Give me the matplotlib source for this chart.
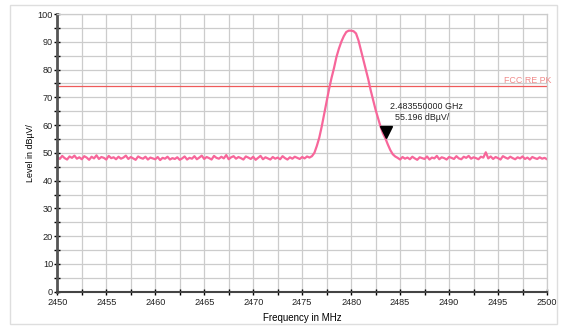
import numpy as np
import matplotlib
matplotlib.use("Agg")
import matplotlib.pyplot as plt
from matplotlib.patches import Rectangle
from matplotlib.ticker import MultipleLocator

plt.rcParams['font.family'] = ['Liberation Sans', 'DejaVu Sans']

# sweep: 2450 .. 2500 MHz, 0.25 MHz step
f_start = 2450.0
f_step = 0.25

# level readings (dBuV/)
level_left = [
    48.5, 47.8, 48.9, 48.1, 47.6, 48.7, 48.2, 49.0, 47.9, 48.4,
    47.7, 48.8, 48.3, 47.5, 48.6, 48.0, 49.1, 47.8, 48.5, 48.2,
    47.6, 48.9, 48.1, 48.4, 47.7, 48.6, 47.9, 48.3, 49.0, 47.8,
    48.5, 48.0, 47.5, 48.7, 48.2, 47.9, 48.6, 47.6, 48.3, 48.0,
    47.7, 48.5, 47.4, 48.2, 47.9, 48.6, 47.6, 48.1, 47.8, 48.4,
    47.5, 48.0, 48.7, 47.6, 48.2, 47.9, 48.8, 47.7, 48.3, 49.0,
    47.8, 48.5, 48.1, 47.6, 48.9, 48.2, 47.9, 48.6, 48.0, 49.2,
    47.7, 48.4, 48.8, 47.9, 48.5, 48.1, 47.6, 48.7, 48.3, 47.8,
    48.6, 47.5, 48.2, 48.9, 47.7, 48.4, 48.0, 47.6, 48.5, 47.9,
    48.3, 47.7, 48.8, 48.1, 47.6, 48.4, 47.9, 48.6, 48.2, 47.8,
    48.5, 48.0, 48.7, 48.3,
]
level_peak = [
    48.8, 50.0, 52.5, 55.5, 59.5, 64.0, 68.5, 73.0, 77.0, 80.5,
    84.5, 87.5, 90.0, 92.0, 93.5, 94.0, 94.0, 93.8, 93.0, 90.5,
    87.0, 83.5, 80.0, 76.5, 72.5, 69.0, 65.5, 62.5, 59.5, 57.0,
    55.2, 53.0, 51.0, 49.5, 48.7,
]
level_right = [
    48.2, 47.6, 48.5, 47.9, 48.3, 47.7, 48.6, 48.0, 47.5, 48.4,
    48.1, 47.8, 48.7, 47.6, 48.3, 48.0, 48.9, 47.7, 48.4, 48.1,
    47.6, 48.5, 48.2, 47.8, 48.8, 48.0, 47.7, 48.6, 48.2, 48.9,
    47.9, 48.4, 48.1, 47.7, 48.6, 48.3, 50.2, 48.0, 48.7, 47.8,
    48.5, 48.1, 47.6, 48.8, 48.3, 47.9, 48.6, 48.1, 47.7, 48.4,
    48.0, 48.7, 47.8, 48.3, 47.6, 48.5, 48.1, 47.8, 48.4, 47.9,
    48.2, 47.7,
]

limit_level = 74.0
limit_name = "FCC RE PK"

marker_freq = 2483.55  # MHz
marker_level = 55.196


def run():
    level = np.array(level_left + level_peak + level_right)
    freq = f_start + f_step * np.arange(len(level))

    fig = plt.figure(figsize=(5.66, 3.29), dpi=100)
    # light frame around the whole chart
    fig.patches.append(Rectangle((10 / 566, 5 / 329), 547 / 566, 319 / 329,
                                 transform=fig.transFigure, fill=False,
                                 edgecolor='#dedede', linewidth=1.0))

    ax = fig.add_axes([57.3 / 566, 37.3 / 329, 489.7 / 566, 277.7 / 329])
    ax.set_xlim(2450, 2500)
    ax.set_ylim(0, 100)

    ax.xaxis.set_major_locator(MultipleLocator(5))
    ax.xaxis.set_minor_locator(MultipleLocator(2.5))
    ax.yaxis.set_major_locator(MultipleLocator(10))
    ax.yaxis.set_minor_locator(MultipleLocator(5))
    ax.grid(True, which='both', color='#cccccc', linewidth=0.9)
    ax.set_axisbelow(True)

    ax.tick_params(which='both', direction='inout', labelsize=6.6, colors='black',
                   labelcolor='#222222', width=1.0)
    ax.tick_params(axis='y', pad=0.5)
    ax.tick_params(axis='x', pad=2)
    ax.tick_params(which='major', length=5)
    ax.tick_params(which='minor', length=4)

    ax.spines['left'].set_color('#555555')
    ax.spines['left'].set_linewidth(2.0)
    ax.spines['bottom'].set_color('#444444')
    ax.spines['bottom'].set_linewidth(1.5)
    for s in ('top', 'right'):
        ax.spines[s].set_color('#cccccc')
        ax.spines[s].set_linewidth(0.9)

    # limit line
    ax.axhline(limit_level, color='#ee5a5a', linewidth=0.9)
    ax.text(2500.45, limit_level + 0.6, limit_name, ha='right', va='bottom',
            fontsize=6.4, color='#f08a8a')

    # trace
    ax.plot(freq, level, color='#f7669a', linewidth=1.6)

    # marker
    ax.plot(marker_freq, marker_level + 2.3, marker='v', markersize=8,
            color='black', linestyle='none')
    ax.text(2483.95, 66.8, "%.9f GHz" % (marker_freq / 1000),
            ha='left', va='center', fontsize=6.4, color='#222222')
    ax.text(2484.45, 62.6, "%.3f dBµV/" % marker_level,
            ha='left', va='center', fontsize=6.4, color='#222222')

    ax.set_xlabel("Frequency in MHz", fontsize=7, labelpad=4)
    ax.set_ylabel("Level in dBµV/", fontsize=6.4, labelpad=2)

    fig.savefig("out.png", dpi=100)


if __name__ == '__main__':
    run()
